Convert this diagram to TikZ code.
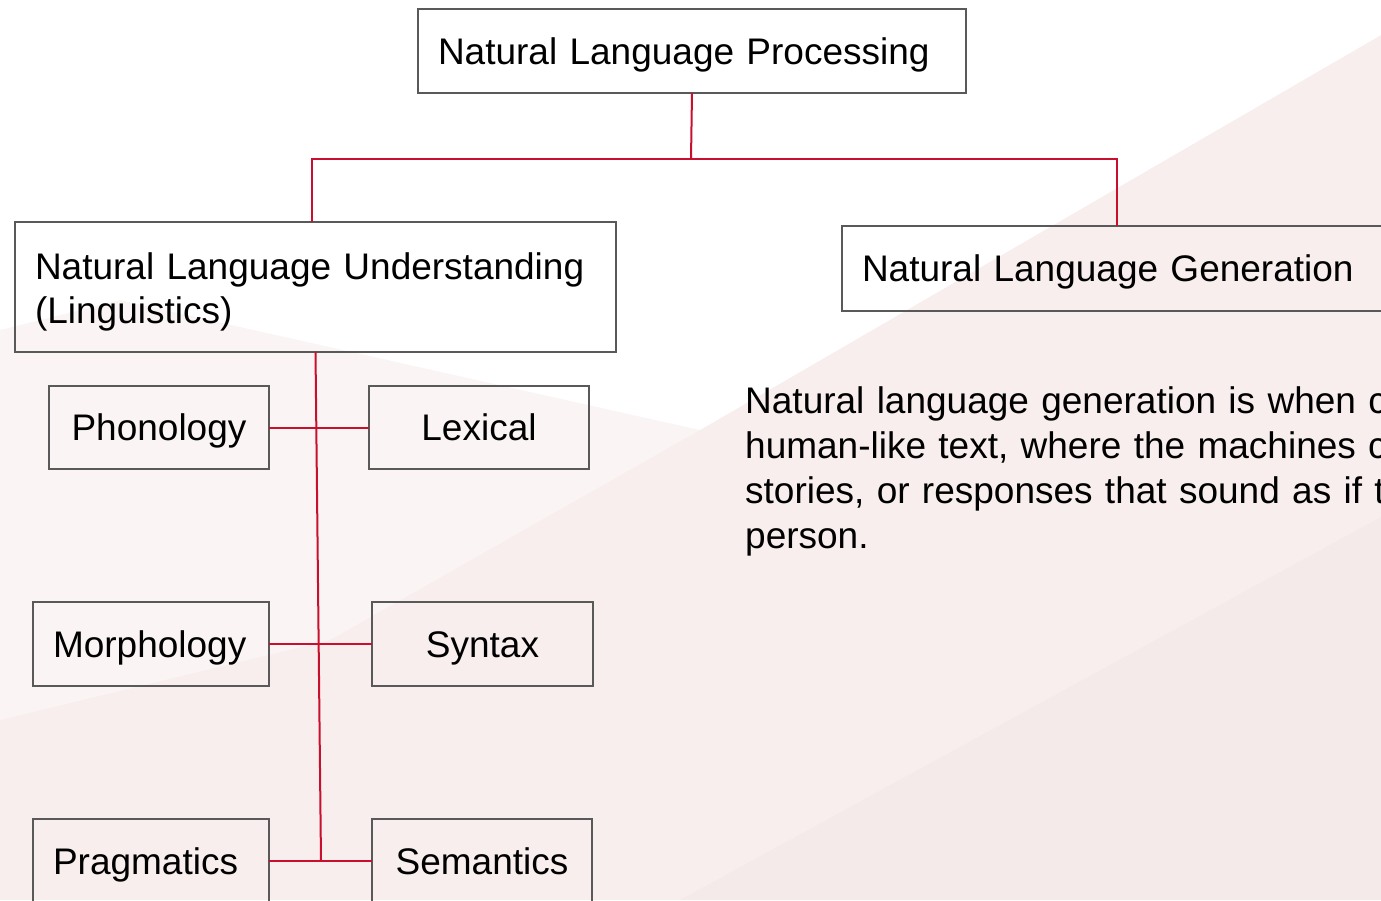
\documentclass[tikz,border=0pt]{standalone}
\usepackage{fontspec}
\setmainfont{Liberation Sans}
\newfontfamily\parafont[WordSpace=0.9]{Liberation Sans}
\definecolor{nlpred}{RGB}{200,16,46}
\definecolor{boxgray}{RGB}{89,89,89}
\definecolor{bgmid}{RGB}{247,238,237}
\definecolor{bglight}{RGB}{250,245,244}
\definecolor{bgdark}{RGB}{244,234,233}
\begin{document}
\begin{tikzpicture}[x=1pt,y=-1pt,
  box/.style={draw=boxgray, line width=2pt, rectangle, inner ysep=0pt, inner xsep=20pt, outer sep=0pt,
    font=\fontsize{37}{44}\selectfont, text height=26.5pt, text depth=0pt},
  leftbox/.style={box, align=left},
  midbox/.style={box, align=center},
  link/.style={draw=nlpred, line width=2pt}]
\useasboundingbox (0,0) rectangle (1381,900);
\clip (0,0) rectangle (1381,900);
% background
\fill[bgmid] (0,0) rectangle (1381,900);
\fill[bglight] (0,300) -- (120,290) -- (700,430) -- (330,640) -- (0,720) -- cycle;
\fill[white] (0,0) -- (1381,0) -- (1381,35) -- (700,430) -- (120,300) -- (0,330) -- cycle;
\fill[bgdark] (680,900) -- (1381,517) -- (1381,900) -- cycle;
% boxes
\node[leftbox, minimum height=84pt, text width=508pt] (nlp) at (692,51) {Natural Language Processing};
\node[leftbox, minimum height=130pt, text width=561pt, text depth=42.5pt] (nlu) at (315.5,287)
  {Natural Language Understanding\\(Linguistics)};
\node[leftbox, minimum height=85pt, text width=508pt] (nlg) at (1116,268.5) {Natural Language Generation};
\node[midbox, minimum height=83pt, text width=180pt] (phon) at (159,427.5) {Phonology};
\node[midbox, minimum height=83pt, text width=180pt] (lex) at (479,427.5) {Lexical};
\node[leftbox, minimum height=84pt, text width=196pt] (morph) at (151,644) {Morphology};
\node[midbox, minimum height=84pt, text width=181pt] (syn) at (482.5,644) {Syntax};
\node[leftbox, minimum height=84pt, text width=196pt] (prag) at (151,861) {Pragmatics};
\node[midbox, minimum height=84pt, text width=180pt] (sem) at (482,861) {Semantics};
% description
\node[font=\parafont\fontsize{37}{45}\selectfont, text width=700pt, align=left, inner sep=0pt, anchor=base west] (desc) at (745,413)
  {Natural language generation is when c\\human-like text, where the machines c\\stories, or responses that sound as if th\\person.};
% connectors
\coordinate (jl) at (312,159);
\coordinate (jm) at (691,159);
\coordinate (jr) at (1117,159);
\coordinate (sp) at (321,861);
\draw[link] (nlp.south) -- (jm);
\draw[link] (nlu.north -| jl) -- (jl) -- (jr) -- (nlg.north -| jr);
\draw[link] (nlu.south) -- (sp);
\draw[link] (phon.east) -- (lex.west);
\draw[link] (morph.east) -- (syn.west);
\draw[link] (prag.east) -- (sem.west);
\end{tikzpicture}
\end{document}
